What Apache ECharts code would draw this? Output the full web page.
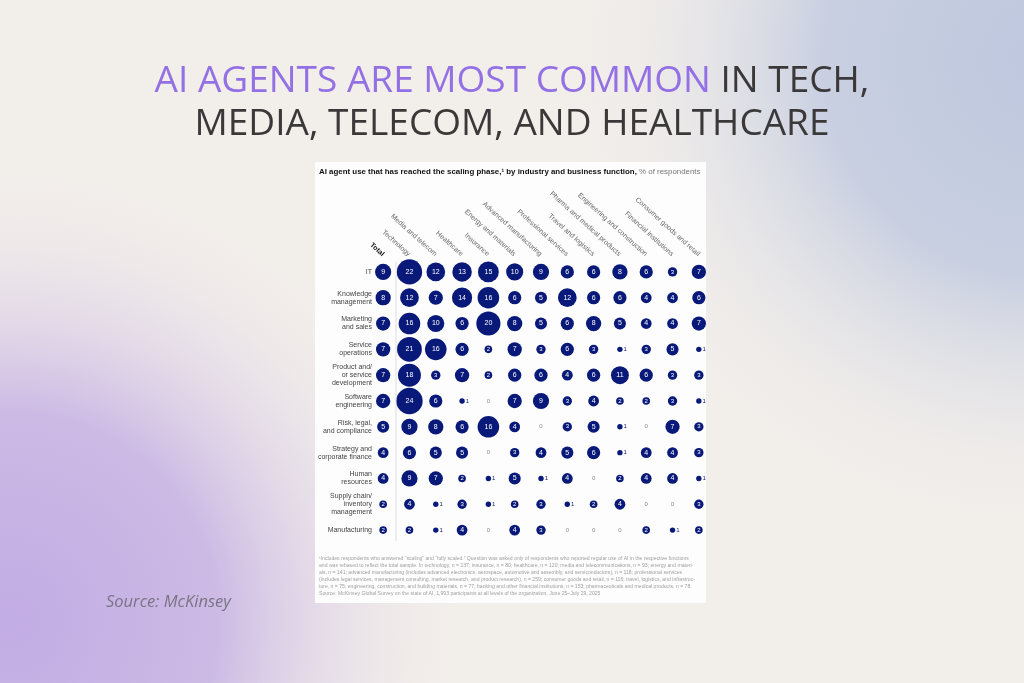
<!DOCTYPE html>
<html>
<head>
<meta charset="utf-8">
<script src="https://cdn.jsdelivr.net/npm/echarts@6/dist/echarts.min.js"></script>
<style>
  html, body { margin: 0; padding: 0; }
  #main { width: 1024px; height: 683px; }
</style>
</head>
<body>
<div id="main"></div>
<script>
// columns (industries), top axis
var industries = ['Total', 'Technology', 'Media and telecom', 'Healthcare', 'Insurance',
    'Energy and materials', 'Advanced manufacturing', 'Professional services',
    'Travel and logistics', 'Pharma and medical products', 'Engineering and construction',
    'Financial institutions', 'Consumer goods and retail'];

// rows (business functions)
var functions = ['IT', 'Knowledge\nmanagement', 'Marketing\nand sales', 'Service\noperations',
    'Product and/\nor service\ndevelopment', 'Software\nengineering', 'Risk, legal,\nand compliance',
    'Strategy and\ncorporate finance', 'Human\nresources', 'Supply chain/\ninventory\nmanagement',
    'Manufacturing'];

// % of respondents, one array per function, same order as industries
var itVals        = [9, 22, 12, 13, 15, 10, 9, 6, 6, 8, 6, 3, 7];
var knowledgeVals = [8, 12, 7, 14, 16, 6, 5, 12, 6, 6, 4, 4, 6];
var marketingVals = [7, 16, 10, 6, 20, 8, 5, 6, 8, 5, 4, 4, 7];
var serviceVals   = [7, 21, 16, 6, 2, 7, 3, 6, 3, 1, 3, 5, 1];
var productVals   = [7, 18, 3, 7, 2, 6, 6, 4, 6, 11, 6, 3, 3];
var softwareVals  = [7, 24, 6, 1, 0, 7, 9, 3, 4, 2, 2, 3, 1];
var riskVals      = [5, 9, 8, 6, 16, 4, 0, 3, 5, 1, 0, 7, 3];
var strategyVals  = [4, 6, 5, 5, 0, 3, 4, 5, 6, 1, 4, 4, 3];
var hrVals        = [4, 9, 7, 2, 1, 5, 1, 4, 0, 2, 4, 4, 1];
var supplyVals    = [2, 4, 1, 3, 1, 2, 3, 1, 2, 4, 0, 0, 3];
var manufVals     = [2, 2, 1, 4, 0, 4, 3, 0, 0, 0, 2, 1, 2];

var rows = [itVals, knowledgeVals, marketingVals, serviceVals, productVals, softwareVals,
    riskVals, strategyVals, hrVals, supplyVals, manufVals];

var navy = '#08197a';

var points = [];
rows.forEach(function (vals, r) {
    vals.forEach(function (v, c) {
        var lbl;
        if (v === 0) {
            lbl = { show: true, position: 'inside', color: '#8a8a8a', fontSize: 6 };
        } else if (v === 1) {
            lbl = { show: true, position: 'right', distance: 1, color: navy, fontSize: 6 };
        } else {
            lbl = { show: true, position: 'inside', color: '#fff', fontSize: v < 4 ? 6 : 7 };
        }
        points.push({
            value: [c, r, v],
            label: lbl,
            itemStyle: { color: v === 0 ? 'rgba(0,0,0,0)' : navy, opacity: 1 }
        });
    });
});

var footnote = [
    '\u00b9Includes respondents who answered \u201cscaling\u201d and \u201cfully scaled.\u201d Question was asked only of respondents who reported regular use of AI in the respective functions',
    'and was rebased to reflect the total sample. In technology, n = 237; insurance, n = 80; healthcare, n = 120; media and telecommunications, n = 93; energy and materi-',
    'als, n = 141; advanced manufacturing (includes advanced electronics, aerospace, automotive and assembly, and semiconductors), n = 118; professional services',
    '(includes legal services, management consulting, market research, and product research), n = 259; consumer goods and retail, n = 116; travel, logistics, and infrastruc-',
    'ture, n = 75; engineering, construction, and building materials, n = 77; banking and other financial institutions, n = 153; pharmaceuticals and medical products, n = 78.',
    'Source: McKinsey Global Survey on the state of AI, 1,993 participants at all levels of the organization, June 25\u2013July 29, 2025'
].join('\n');

var chart = echarts.init(document.getElementById('main'));

var option = {
    backgroundColor: '#f2eeea',
    animation: false,
    graphic: [
        // soft glows
        { type: 'circle', z: -20, shape: { cx: 10, cy: 620, r: 460 },
          style: { fill: { type: 'radial', x: 0.5, y: 0.5, r: 0.5, colorStops: [
              { offset: 0, color: 'rgba(194,172,228,1)' },
              { offset: 0.45, color: 'rgba(200,180,228,0.9)' },
              { offset: 1, color: 'rgba(242,238,234,0)' }] } } },
        { type: 'circle', z: -20, shape: { cx: 1040, cy: 60, r: 480 },
          style: { fill: { type: 'radial', x: 0.5, y: 0.5, r: 0.5, colorStops: [
              { offset: 0, color: 'rgba(190,199,222,1)' },
              { offset: 0.45, color: 'rgba(196,204,224,0.9)' },
              { offset: 1, color: 'rgba(242,238,234,0)' }] } } },
        // headline
        { type: 'text', z: 10, x: 512, y: 81,
          style: { text: '{p|AI AGENTS ARE MOST COMMON}{d| IN TECH,}', align: 'center', verticalAlign: 'middle',
              rich: {
                  p: { fontFamily: 'Open Sans', fontSize: 37, fill: '#9370e4' },
                  d: { fontFamily: 'Open Sans', fontSize: 37, fill: '#3a3838' }
              } } },
        { type: 'text', z: 10, x: 512, y: 124,
          style: { text: 'MEDIA, TELECOM, AND HEALTHCARE', align: 'center', verticalAlign: 'middle',
              fontFamily: 'Open Sans', fontSize: 37, fill: '#3a3838' } },
        { type: 'text', z: 10, x: 106, y: 602,
          style: { text: 'Source: McKinsey', verticalAlign: 'middle', fontFamily: 'Open Sans',
              fontStyle: 'italic', fontSize: 16.5, fill: '#7a7384' } },
        // white card
        { type: 'rect', z: -10, shape: { x: 315, y: 162, width: 391, height: 441 },
          style: { fill: '#fdfdfd' } },
        { type: 'text', z: 10, x: 319, y: 172,
          style: { text: '{b|AI agent use that has reached the scaling phase,\u00b9 by industry and business function,}{g| % of respondents}',
              verticalAlign: 'middle',
              rich: {
                  b: { fontFamily: 'Liberation Sans', fontWeight: 'bold', fontSize: 7.9, fill: '#111' },
                  g: { fontFamily: 'Liberation Sans', fontSize: 7.9, fill: '#777' }
              } } },
        { type: 'line', z: 10, shape: { x1: 396, y1: 262, x2: 396, y2: 541 },
          style: { stroke: '#cfcfcf', lineWidth: 0.7 } },
        { type: 'text', z: 10, x: 319, y: 555,
          style: { text: footnote, fontFamily: 'Liberation Sans', fontSize: 5.1, lineHeight: 7,
              fill: '#a0a0a0' } }
    ],
    grid: { left: 370, top: 259, width: 342, height: 284 },
    xAxis: {
        type: 'category',
        position: 'top',
        data: industries,
        axisLine: { show: false },
        axisTick: { show: false },
        splitLine: { show: false },
        axisLabel: {
            interval: 0,
            rotate: 42,
            margin: 4,
            fontSize: 7,
            fontFamily: 'Liberation Sans',
            color: '#666',
            formatter: function (v, i) { return i === 0 ? '{t|' + v + '}' : v; },
            rich: { t: { fontWeight: 'bold', color: '#111', fontSize: 7, fontFamily: 'Liberation Sans' } }
        }
    },
    yAxis: {
        type: 'category',
        inverse: true,
        data: functions,
        axisLine: { show: false },
        axisTick: { show: false },
        splitLine: { show: false },
        axisLabel: {
            interval: 0,
            margin: -2,
            fontSize: 7,
            lineHeight: 8,
            align: 'right',
            fontFamily: 'Liberation Sans',
            color: '#444'
        }
    },
    series: [{
        type: 'scatter',
        data: points,
        symbol: 'circle',
        symbolSize: function (d) { return d[2] > 0 ? 5.4 * Math.sqrt(d[2]) : 1; },
        label: {
            formatter: function (p) { return p.value[2]; },
            fontFamily: 'Liberation Sans'
        }
    }]
};

chart.setOption(option);
</script>
</body>
</html>
